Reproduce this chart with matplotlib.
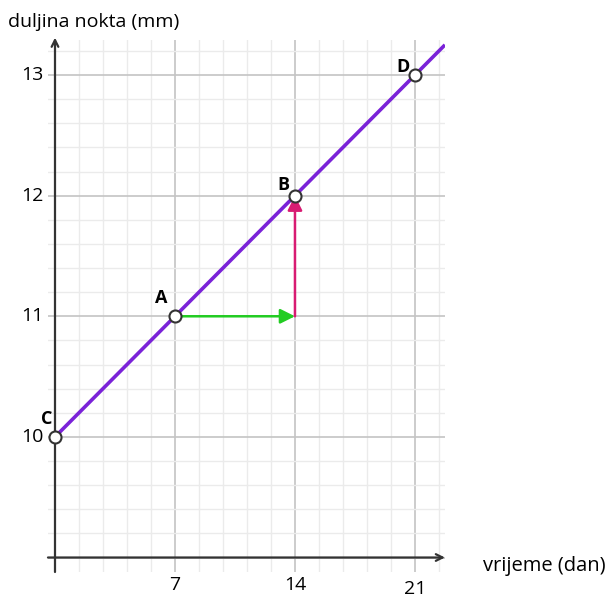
import matplotlib
matplotlib.use("Agg")
import matplotlib.pyplot as plt
import numpy as np

# data
point_names = ["C", "A", "B", "D"]
days = [0, 7, 14, 21]
nail_mm = [10, 11, 12, 13]
x_ticks = [7, 14, 21]
y_ticks = [10, 11, 12, 13]
run_start, run_end = (7, 11), (14, 11)
rise_end = (14, 12)

plt.rcParams["font.family"] = ["Open Sans", "DejaVu Sans"]

XMIN, XMAX = -0.41, 22.75
YMIN, YMAX = 8.88, 13.29
X_AXIS_Y = 9

fig = plt.figure(figsize=(6.15, 5.97), dpi=100)
ax = fig.add_axes([0.078, 0.0419, 0.6455, 0.891])
ax.set_xlim(XMIN, XMAX)
ax.set_ylim(YMIN, YMAX)
for s in ax.spines.values():
    s.set_visible(False)
ax.set_xticks([])
ax.set_yticks([])

# grid
for gx in np.arange(0, 23, 1.4):
    major = np.isclose(gx % 7, 0) or np.isclose(gx % 7, 7)
    ax.axvline(gx, color="#c4c4c4" if major else "#ebebeb", lw=1.2 if major else 1.0, zorder=0)
for gy in np.arange(9, 13.3, 0.2):
    major = np.isclose(gy % 1, 0) or np.isclose(gy % 1, 1)
    ax.axhline(gy, color="#c4c4c4" if major else "#ebebeb", lw=1.2 if major else 1.0, zorder=0)

# axes with arrows
ax.annotate("", xy=(0, YMAX + 0.02), xytext=(0, YMIN),
            arrowprops=dict(arrowstyle="->", color="#333333", lw=1.6, shrinkA=0, shrinkB=0,
                            mutation_scale=12), annotation_clip=False, zorder=2)
ax.annotate("", xy=(XMAX, X_AXIS_Y), xytext=(XMIN, X_AXIS_Y),
            arrowprops=dict(arrowstyle="->", color="#333333", lw=1.6, shrinkA=0, shrinkB=0,
                            mutation_scale=12), annotation_clip=False, zorder=2)

# line through the points
slope = (nail_mm[-1] - nail_mm[0]) / (days[-1] - days[0])
lx = np.array([days[0], XMAX])
ax.plot(lx, nail_mm[0] + slope * (lx - days[0]), color="#7a22d8", lw=2.6,
        solid_capstyle="butt", zorder=3)

# run / rise arrows
ax.annotate("", xy=run_end, xytext=run_start,
            arrowprops=dict(arrowstyle="-|>", color="#22cc22", lw=1.8, shrinkA=0, shrinkB=0,
                            mutation_scale=22), zorder=3)
ax.annotate("", xy=rise_end, xytext=run_end,
            arrowprops=dict(arrowstyle="-|>", color="#d81b72", lw=1.8, shrinkA=0, shrinkB=0,
                            mutation_scale=22), zorder=3)

ax.scatter(days, nail_mm, s=75, facecolor="white", edgecolor="#333333", lw=1.5, zorder=5,
           clip_on=False)

offsets = {"C": (-0.5, 0.15), "A": (-0.8, 0.15), "B": (-0.7, 0.09), "D": (-0.7, 0.07)}
for name, x, y in zip(point_names, days, nail_mm):
    dx, dy = offsets[name]
    ax.text(x + dx, y + dy, name, fontsize=13, fontweight="bold", ha="center", va="center",
            zorder=6)

# tick labels
for t in x_ticks:
    ax.text(t, X_AXIS_Y - 0.23 - (0.035 if t == 21 else 0), str(t), fontsize=14,
            ha="center", va="center")
for t in y_ticks:
    ax.text(-0.65, t, str(t), fontsize=14, ha="right", va="center")

fig.text(8 / 615, 1 - 22 / 597, "duljina nokta (mm)", fontsize=14, ha="left", va="center")
fig.text(483 / 615, 1 - 566 / 597, "vrijeme (dan)", fontsize=14.5, ha="left", va="center")

fig.savefig("out.png", dpi=100)
